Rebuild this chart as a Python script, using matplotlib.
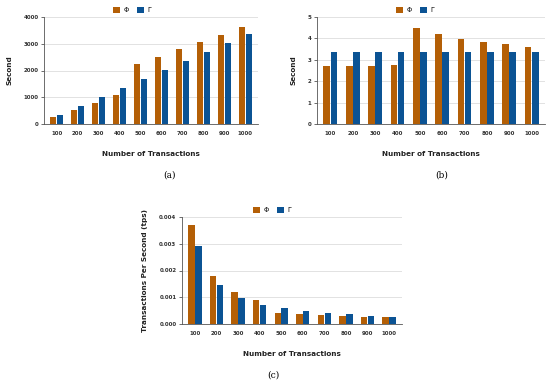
import numpy as np
import matplotlib
matplotlib.use("Agg")
import matplotlib.pyplot as plt

# data
tx = ["100", "200", "300", "400", "500", "600", "700", "800", "900", "1000"]

time_phi = [260, 530, 800, 1070, 2245, 2520, 2800, 3080, 3340, 3615]
time_gam = [335, 670, 1000, 1340, 1680, 2020, 2350, 2690, 3030, 3375]

lat_phi = [2.69, 2.72, 2.72, 2.75, 4.49, 4.19, 3.99, 3.85, 3.72, 3.61]
lat_gam = [3.38, 3.38, 3.37, 3.37, 3.37, 3.37, 3.37, 3.37, 3.37, 3.38]

tps_phi = [0.00371, 0.00181, 0.00121, 0.00090, 0.00042, 0.00037, 0.00034, 0.00031, 0.00027, 0.00026]
tps_gam = [0.00293, 0.00145, 0.00097, 0.00071, 0.00059, 0.00047, 0.00041, 0.00036, 0.00031, 0.00027]

c_phi = "#b45f06"
c_gam = "#0b5394"

W, H = 550, 382
fig = plt.figure(figsize=(W / 100, H / 100), dpi=100)


def px_axes(left, right, top, bottom):
    return fig.add_axes([left / W, 1 - bottom / H, (right - left) / W, (bottom - top) / H])


def bar_panel(ax, a, b, ymax, yticks, fmt, ylabel, leg_x):
    x = np.arange(len(tx))
    w = 0.3
    ax.bar(x - w / 2 - 0.01, a, w, color=c_phi, label="Φ", zorder=3)
    ax.bar(x + w / 2 + 0.01, b, w, color=c_gam, label="Γ", zorder=3)
    ax.set_xlim(-0.6, len(tx) - 0.4)
    ax.set_ylim(0, ymax)
    ax.set_yticks(yticks)
    ax.set_yticklabels([fmt(v) for v in yticks])
    ax.set_xticks(x)
    ax.set_xticklabels(tx)
    ax.grid(axis="y", color="#dddddd", linewidth=0.6, zorder=0)
    for s in ["top", "right"]:
        ax.spines[s].set_visible(False)
    ax.spines["left"].set_color("#555555")
    ax.spines["left"].set_linewidth(0.6)
    ax.spines["bottom"].set_color("#555555")
    ax.spines["bottom"].set_linewidth(0.6)
    ax.tick_params(axis="y", length=2, width=0.5, labelsize=4, pad=2, colors="#333333")
    ax.tick_params(axis="x", length=0, labelsize=4, pad=5, colors="#333333")
    for t in ax.get_xticklabels() + ax.get_yticklabels():
        t.set_fontweight("bold")
    ax.set_xlabel("Number of Transactions", fontsize=5.2, fontweight="bold", labelpad=11, color="#222222")
    ax.set_ylabel(ylabel, fontsize=5.2, fontweight="bold", labelpad=8, color="#222222")
    ax.legend(loc="lower center", bbox_to_anchor=(leg_x, 1.0), ncol=2, frameon=False,
              fontsize=4.8, handlelength=1.1, handleheight=1.1, columnspacing=1.2,
              handletextpad=0.5, borderaxespad=0.2)


ax1 = px_axes(44, 258, 17, 124)
bar_panel(ax1, time_phi, time_gam, 4000, [0, 1000, 2000, 3000, 4000], lambda v: f"{v:d}", "Second", 0.41)

ax2 = px_axes(317, 545, 17, 124)
bar_panel(ax2, lat_phi, lat_gam, 5, [0, 1, 2, 3, 4, 5], lambda v: f"{v:d}", "Second", 0.43)

ax3 = px_axes(182, 402, 217, 324)
bar_panel(ax3, tps_phi, tps_gam, 0.004, [0, 0.001, 0.002, 0.003, 0.004], lambda v: f"{v:.3f}",
          "Transactions Per Second (tps)", 0.41)

cap = dict(fontsize=6.5, family="DejaVu Serif", ha="center", va="center")
fig.text(170 / W, 1 - 175 / H, "(a)", **cap)
fig.text(442 / W, 1 - 175 / H, "(b)", **cap)
fig.text(273 / W, 1 - 375 / H, "(c)", **cap)

fig.savefig("out.png", dpi=100)
